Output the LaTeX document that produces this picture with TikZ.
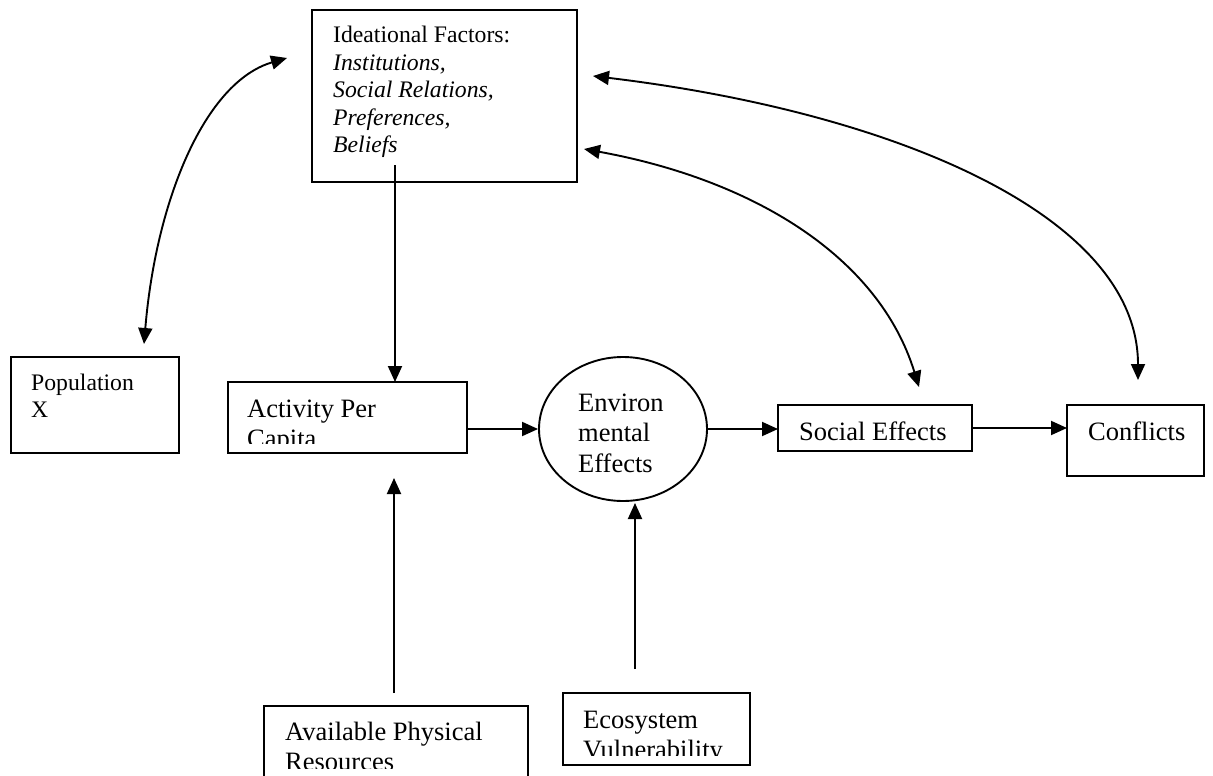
\documentclass[tikz,border=0pt]{standalone}
\usepackage{fontspec}
\setmainfont{Liberation Serif}
\usetikzlibrary{arrows.meta,shapes.geometric}
\begin{document}
\begin{tikzpicture}[x=1pt,y=-1pt,
  box/.style={draw, line width=1.9pt, inner sep=0pt, outer sep=0pt, anchor=north west},
  big/.style={font=\fontsize{26.5}{30.5}\selectfont},
  small/.style={font=\fontsize{23.7}{27.5}\selectfont},
  txt/.style={anchor=base west, inner sep=0pt, align=left},
  arr/.style={line width=1.9pt, -{Triangle[length=16pt,width=14pt]}},
  darr/.style={line width=1.9pt, {Triangle[length=16pt,width=14pt]}-{Triangle[length=16pt,width=14pt]}}]
\useasboundingbox (0,0) rectangle (1213,776);

% boxes
\node[box, minimum width=265pt, minimum height=172pt] (ideal) at (312,10) {};
\node[box, minimum width=168pt, minimum height=96pt] (pop) at (11,357) {};
\node[box, minimum width=239pt, minimum height=71pt] (act) at (228,382) {};
\node[draw, ellipse, line width=1.9pt, inner sep=0pt, minimum width=168pt, minimum height=144pt] (env) at (623,429) {};
\node[box, minimum width=194pt, minimum height=46pt] (soc) at (778,405) {};
\node[box, minimum width=137pt, minimum height=71pt] (conf) at (1067,405) {};
\node[box, minimum width=264pt, minimum height=110pt] (avail) at (264,706) {};
\node[box, minimum width=187pt, minimum height=72pt] (eco) at (563,693) {};

% texts (anchor at baseline of the last line)
\node[txt,small] (idealt) at (333,152.5) {Ideational Factors:\\\textit{Institutions,}\\\textit{Social Relations,}\\\textit{Preferences,}\\\textit{Beliefs}};
\node[txt,small] (popt) at (31,417.5) {Population\\X};
\begin{scope}
  \clip (228,382) rectangle (467,443);
  \node[txt,big] (actt) at (247,447.5) {Activity Per\\Capita};
\end{scope}
\node[txt,big] (envt) at (578,472) {Environ\\mental\\Effects};
\node[txt,big] (soct) at (799,440) {Social Effects};
\node[txt,big] (conft) at (1088,440) {Conflicts};
\begin{scope}
  \clip (264,706) rectangle (528,768);
  \node[txt,big] (availt) at (285,770.5) {Available Physical\\Resources};
\end{scope}
\begin{scope}
  \clip (563,693) rectangle (750,755);
  \node[txt,big] (ecot) at (583,758.5) {Ecosystem\\Vulnerability};
\end{scope}

% straight connectors
\coordinate (ia) at (395,165);
\draw[arr] (ia) -- (ia |- act.north);
\draw[arr] (act.east |- env.west) -- (env.west);
\draw[arr] (env.east) -- (env.east -| soc.west);
\draw[arr] (soc.east) -- (soc.east -| conf.west);
\coordinate (apA) at (394,693);
\coordinate (apB) at (394,478);
\draw[arr] (apA) -- (apB);
\coordinate (evA) at (635,669);
\coordinate (evB) at (635,503);
\draw[arr] (evA) -- (evB);

% curved connectors
\coordinate (p0) at (144,344);
\coordinate (p3) at (287,58);
\draw[darr] (p0) .. controls (156,200) and (205,82) .. (p3);
\coordinate (u0) at (593,76);
\coordinate (u3) at (1138,380);
\draw[darr] (u0) .. controls (893,112) and (1138,215) .. (u3);
\coordinate (l0) at (584,149);
\coordinate (l3) at (919,387);
\draw[darr] (l0) .. controls (754,180) and (879,257) .. (l3);
\end{tikzpicture}
\end{document}
